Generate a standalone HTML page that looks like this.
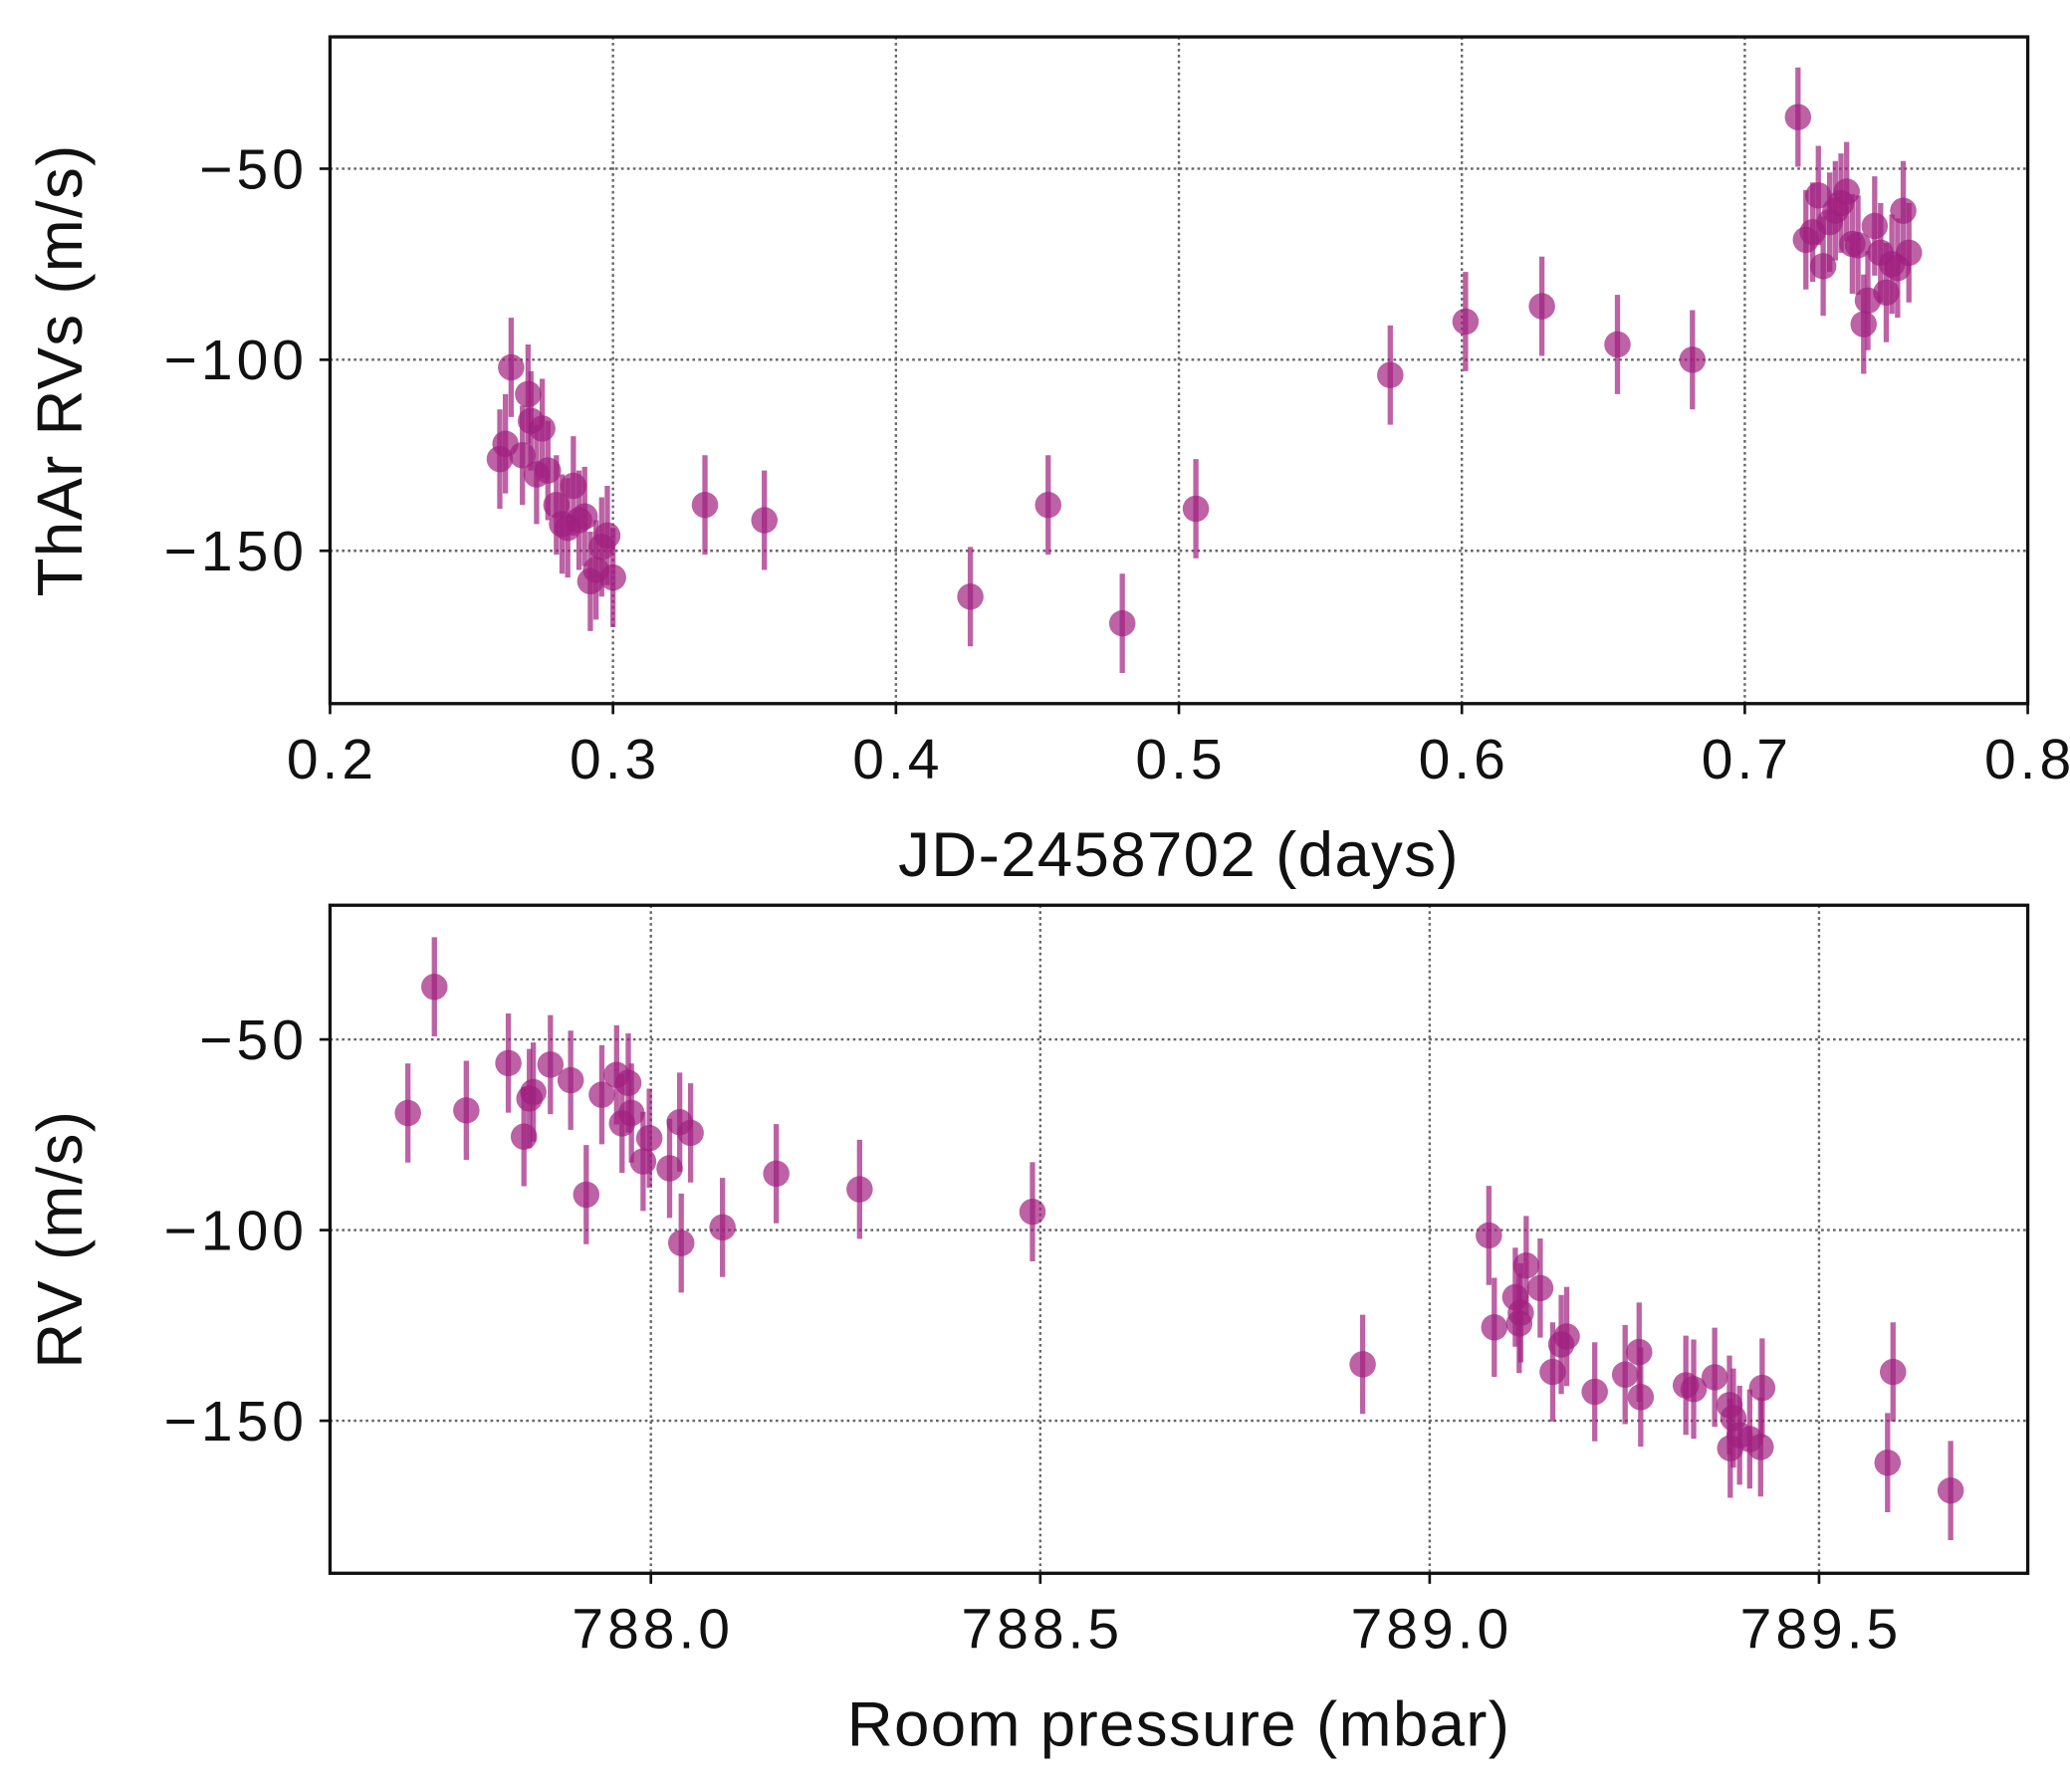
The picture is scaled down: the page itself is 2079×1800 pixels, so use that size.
<!DOCTYPE html>
<html><head><meta charset="utf-8"><style>
html,body{margin:0;padding:0;background:#fff}
svg{display:block}
text{font-family:"Liberation Sans","DejaVu Sans",sans-serif;fill:#111}
</style></head><body>
<svg id="chart" width="2079" height="1800" viewBox="0 0 1568 1360" preserveAspectRatio="none" xmlns="http://www.w3.org/2000/svg">
<g id="top"></g>
<g id="bot"></g>
</svg>
<script>
const topX=[0.260,0.262,0.264,0.268,0.270,0.271,0.273,0.275,0.277,0.280,0.282,0.284,0.286,0.288,0.290,0.292,0.294,0.296,0.298,0.300,0.3325,0.3535,0.4263,0.4538,0.480,0.506,0.5747,0.6013,0.6283,0.655,0.6815,0.7188,0.7216,0.724,0.726,0.7277,0.730,0.732,0.734,0.736,0.738,0.740,0.742,0.7435,0.7459,0.748,0.750,0.752,0.754,0.756,0.758];
const topY=[-126,-122,-102,-125,-109,-116,-130,-118,-129,-138,-143,-144,-133,-142,-141,-158,-155,-149,-146,-157,-138,-142,-162,-138,-169,-139,-104,-90,-86,-96,-100,-36.5,-68.6,-66.6,-57,-75.5,-64,-61,-59,-56,-69.7,-70,-90.7,-84.5,-65,-72,-82.4,-75,-76,-61,-72];
const botX=[787.688,787.722,787.763,787.817,787.837,787.844,787.849,787.871,787.897,787.917,787.937,787.956,787.963,787.971,787.975,787.990,787.998,788.024,788.037,788.039,788.051,788.092,788.161,788.268,788.490,788.914,789.076,789.083,789.110,789.115,789.117,789.124,789.142,789.158,789.169,789.176,789.212,789.251,789.269,789.271,789.329,789.339,789.366,789.385,789.390,789.386,789.398,789.411,789.427,789.425,789.588,789.595,789.669];
const botY=[-69.3,-36.2,-68.6,-56.2,-75.5,-65.5,-63.8,-56.6,-60.7,-90.7,-64.5,-59.3,-72,-61.4,-69.3,-82,-75.9,-83.8,-71.7,-103.4,-74.5,-99.3,-85.2,-89.3,-95.2,-135.2,-101.4,-125.5,-117.6,-124.5,-121.7,-109.3,-115.2,-137.2,-130,-127.9,-142.4,-137.9,-132,-143.8,-140.7,-141.7,-138.6,-145.9,-149.3,-157.2,-153.8,-154.8,-141.4,-156.9,-161,-137.2,-168.3];
const errTop=13, errBot=13;
const topXTicks=[0.2,0.3,0.4,0.5,0.6,0.7,0.8];
const topXLabels=["0.2","0.3","0.4","0.5","0.6","0.7","0.8"];
const botXTicks=[788.0,788.5,789.0,789.5];
const botXLabels=["788.0","788.5","789.0","789.5"];
const yTicks=[-50,-100,-150];
const yLabels=["\u221250","\u2212100","\u2212150"];

const NS="http://www.w3.org/2000/svg";
function mk(p,tag,a){const e=document.createElementNS(NS,tag);for(const k in a)e.setAttribute(k,a[k]);p.appendChild(e);return e;}
function panel(g,cfg){
  const L=250,R=1536,T=cfg.top,B=cfg.bottom;
  const sx=v=>L+(v-cfg.x0)/(cfg.x1-cfg.x0)*(R-L);
  const sy=v=>T+(cfg.y1-v)/(cfg.y1-cfg.y0)*(B-T);
  cfg.xt.forEach((v,i)=>{
    const x=sx(v);
    if(x>L+1&&x<R-1){const gl=mk(g,'line',{x1:x,x2:x,y1:T,y2:B,stroke:'#666','stroke-width':1.8,'stroke-dasharray':'2,2.5'});
    }
    const tk=mk(g,'line',{x1:x,x2:x,y1:B,y2:B+8,stroke:'#111','stroke-width':2});
    
    const t=mk(g,'text',{x:x+1.5,y:B+57,'font-size':43,'letter-spacing':3,'text-anchor':'middle'});t.textContent=cfg.xl[i];
    
  });
  yTicks.forEach((v,i)=>{
    const y=sy(v);
    const gl=mk(g,'line',{x1:L,x2:R,y1:y,y2:y,stroke:'#666','stroke-width':1.8,'stroke-dasharray':'2,2.5'});
    
    const tk=mk(g,'line',{x1:L-8,x2:L,y1:y,y2:y,stroke:'#111','stroke-width':2});
    
    const t=mk(g,'text',{x:L-17,y:y+15,'font-size':43,'letter-spacing':3,'text-anchor':'end'});t.textContent=yLabels[i];
    
  });
  cfg.xs.forEach((v,i)=>{
    const x=sx(v),y=sy(cfg.ys[i]);
    const eb=mk(g,'line',{x1:x,x2:x,y1:sy(cfg.ys[i]+cfg.err),y2:sy(cfg.ys[i]-cfg.err),stroke:'#a0207f','stroke-width':4,'stroke-opacity':0.7});
    
    const c=mk(g,'circle',{cx:x,cy:y,r:10,fill:'#a0207f','fill-opacity':0.7});
    
  });
  const fr=mk(g,'rect',{x:L,y:T,width:R-L,height:B-T,fill:'none',stroke:'#111','stroke-width':2.5});
  
  const xl=mk(g,'text',{x:(L+R)/2,y:cfg.xlabY,'font-size':48,'letter-spacing':1,'text-anchor':'middle'});xl.textContent=cfg.xlab;
  
  const yl=mk(g,'text',{x:0,y:0,'font-size':48,'letter-spacing':1,'text-anchor':'middle',transform:`translate(62,${(T+B)/2}) rotate(-90)`});yl.textContent=cfg.ylab;
  
}
panel(document.getElementById('top'),{top:28,bottom:534,x0:0.2,x1:0.8,y0:-190,y1:-15.5,xt:topXTicks,xl:topXLabels,xs:topX,ys:topY,err:errTop,xlab:'JD-2458702 (days)',xlabY:665,ylab:'ThAr RVs (m/s)'});
panel(document.getElementById('bot'),{top:687,bottom:1194,x0:787.588,x1:789.768,y0:-190,y1:-14.8,xt:botXTicks,xl:botXLabels,xs:botX,ys:botY,err:errBot,xlab:'Room pressure (mbar)',xlabY:1325,ylab:'RV (m/s)'});
</script>
</body></html>
